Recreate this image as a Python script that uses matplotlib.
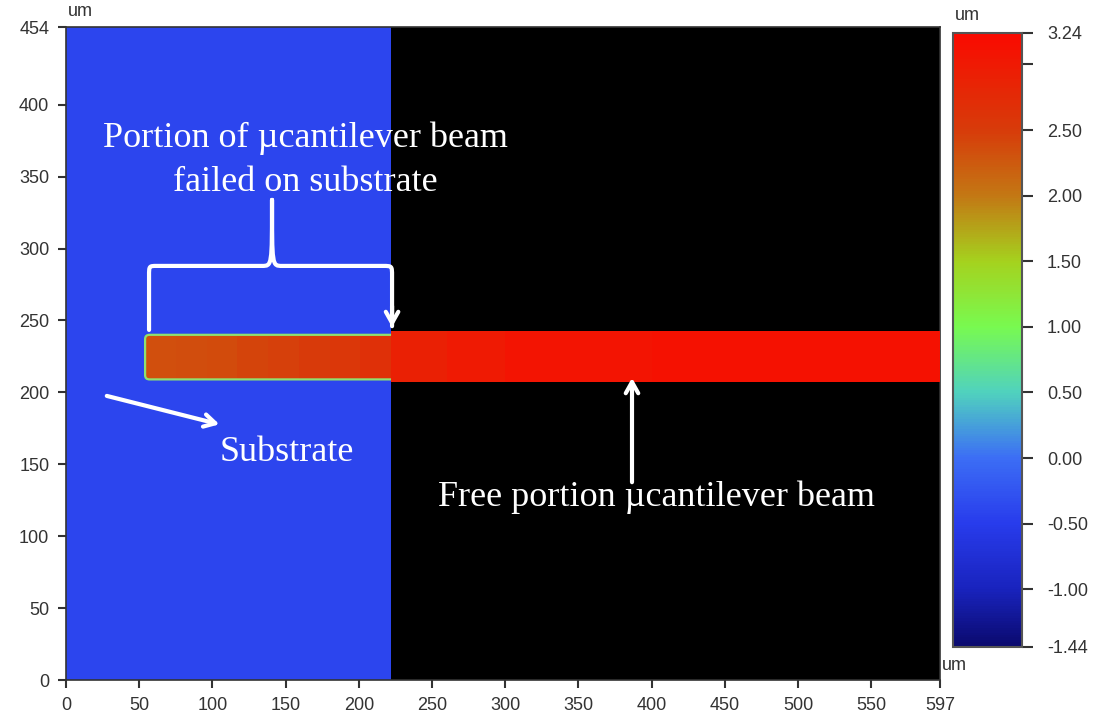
import numpy as np
import matplotlib
matplotlib.use("Agg")
import matplotlib.pyplot as plt
from matplotlib.colors import LinearSegmentedColormap, Normalize
from matplotlib.path import Path
from matplotlib.patches import PathPatch
import matplotlib.cm as cm

plt.rcParams["font.family"] = ["Liberation Sans", "DejaVu Sans"]

# ---------------- data (um) ----------------
x_range = [0, 597]
y_range = [0, 454]
z_range = [-1.44, 3.24]

substrate_x = [0, 222]
substrate_y = [0, 454]
substrate_level = [[-0.40]]

fail_beam_x = [54, 75, 96, 117, 138, 159, 180, 201, 222]
fail_beam_y = [209, 240]
fail_beam_heights = [[2.34, 2.36, 2.38, 2.42, 2.46, 2.52, 2.58, 2.66]]

free_beam_x = [222, 260, 300, 400, 597]
free_beam_y = [207, 243]
free_beam_heights = [[2.90, 3.00, 3.08, 3.12]]

xticks = [0, 50, 100, 150, 200, 250, 300, 350, 400, 450, 500, 550, 597]
yticks = [0, 50, 100, 150, 200, 250, 300, 350, 400, 454]
cbar_ticks = [-1.44, -1.00, -0.50, 0.00, 0.50, 1.00, 1.50, 2.00, 2.50, 3.00, 3.24]
cbar_labels = ["-1.44", "-1.00", "-0.50", "0.00", "0.50", "1.00", "1.50", "2.00", "2.50", "", "3.24"]

# colormap nodes (value, color)
cmap_nodes = [(-1.44, "#0a0a6e"), (-1.00, "#1923be"), (-0.50, "#283cec"),
              (0.00, "#3c6ef5"), (0.50, "#50d2be"), (1.00, "#78fa50"),
              (1.50, "#a5d21e"), (2.00, "#c37814"), (2.50, "#d73c0a"),
              (3.24, "#fa0a00")]

# ---------------- figure ----------------
fig = plt.figure(figsize=(10.97, 7.28), dpi=100)
ax = fig.add_axes([0.0602, 0.0659, 0.7967, 0.897])
cax = fig.add_axes([0.8687, 0.1113, 0.0629, 0.8434])

zmin, zmax = z_range
cmap = LinearSegmentedColormap.from_list(
    "afm", [((v - zmin) / (zmax - zmin), c) for v, c in cmap_nodes])
norm = Normalize(vmin=zmin, vmax=zmax)

ax.set_facecolor("black")
ax.pcolormesh(substrate_x, substrate_y, substrate_level, cmap=cmap, norm=norm, shading="flat")
ax.pcolormesh(fail_beam_x, fail_beam_y, fail_beam_heights, cmap=cmap, norm=norm,
              shading="flat", zorder=3)
ax.pcolormesh(free_beam_x, free_beam_y, free_beam_heights, cmap=cmap, norm=norm,
              shading="flat", zorder=3)

# thin green halo at the failed beam edge (left, top, bottom)
x0, x1 = fail_beam_x[0], fail_beam_x[-1]
y0, y1 = fail_beam_y
r = 3
halo_verts = [(x1, y1), (x0 + r, y1), (x0, y1), (x0, y1 - r), (x0, y0 + r),
              (x0, y0), (x0 + r, y0), (x1, y0)]
halo_codes = [Path.MOVETO, Path.LINETO, Path.CURVE3, Path.CURVE3, Path.LINETO,
              Path.CURVE3, Path.CURVE3, Path.LINETO]
ax.add_patch(PathPatch(Path(halo_verts, halo_codes), fc="none", ec="#8fe070",
                       lw=1.6, zorder=4))

ax.set_xlim(*x_range)
ax.set_ylim(*y_range)
ax.set_xticks(xticks)
ax.set_yticks(yticks)
ax.tick_params(direction="out", length=6, width=1.5, color="#333333",
               labelsize=13, labelcolor="#333333", pad=6)
for s in ax.spines.values():
    s.set_color("#333333")
    s.set_linewidth(1.2)

# colorbar
cb = fig.colorbar(cm.ScalarMappable(norm=norm, cmap=cmap), cax=cax, ticks=cbar_ticks)
cb.ax.set_yticklabels(cbar_labels)
cb.ax.tick_params(direction="out", length=8, width=1.5, color="#333333",
                  labelsize=13, labelcolor="#333333", pad=10)
cb.outline.set_edgecolor("#555555")
cb.outline.set_linewidth(1.5)

# unit labels
fig.text(68 / 1097, 1 - 12 / 728, "um", fontsize=13, color="#333333", va="center", ha="left")
fig.text(955 / 1097, 1 - 15 / 728, "um", fontsize=13, color="#333333", va="center", ha="left")
fig.text(942 / 1097, 1 - 665 / 728, "um", fontsize=13, color="#333333", va="center", ha="left")

# annotations
serif = "Liberation Serif"
ax.text(163.3, 361.6, "Portion of \u00b5cantilever beam\nfailed on substrate",
        ha="center", va="center", color="white", fontsize=26, family=serif,
        linespacing=1.45, zorder=6)
ax.text(151, 158.5, "Substrate", ha="center", va="center", color="white",
        fontsize=26, family=serif, zorder=6)
ax.text(403, 127, "Free portion \u00b5cantilever beam", ha="center", va="center",
        color="white", fontsize=26, family=serif, zorder=6)

ax.annotate("", xy=(106.6, 177.3), xytext=(26, 198),
            arrowprops=dict(arrowstyle="->,head_length=0.8,head_width=0.45",
                            color="white", lw=3), zorder=6)
ax.annotate("", xy=(386.6, 212), xytext=(386.6, 135.6),
            arrowprops=dict(arrowstyle="->,head_length=0.8,head_width=0.45",
                            color="white", lw=3), zorder=6)

# curly brace over failed portion
verts = [(56.7, 243.4), (56.7, 281.0),
         (56.7, 287.9), (56.7, 287.9), (62.0, 287.9),
         (133.9, 287.9),
         (140.7, 287.9), (140.7, 287.9), (140.7, 333.8),
         (140.7, 287.9), (140.7, 287.9), (147.5, 287.9),
         (216.5, 287.9),
         (222.7, 287.9), (222.7, 287.9), (222.7, 281.0),
         (222.7, 246.0)]
codes = [Path.MOVETO, Path.LINETO,
         Path.CURVE4, Path.CURVE4, Path.CURVE4,
         Path.LINETO,
         Path.CURVE4, Path.CURVE4, Path.CURVE4,
         Path.CURVE4, Path.CURVE4, Path.CURVE4,
         Path.LINETO,
         Path.CURVE4, Path.CURVE4, Path.CURVE4,
         Path.LINETO]
ax.add_patch(PathPatch(Path(verts, codes), fc="none", ec="white", lw=3,
                       capstyle="round", joinstyle="round", zorder=6))
ax.annotate("", xy=(222.7, 243.4), xytext=(222.7, 262),
            arrowprops=dict(arrowstyle="->,head_length=0.8,head_width=0.45",
                            color="white", lw=3), zorder=6)

fig.savefig("out.png", dpi=100, facecolor="white")
